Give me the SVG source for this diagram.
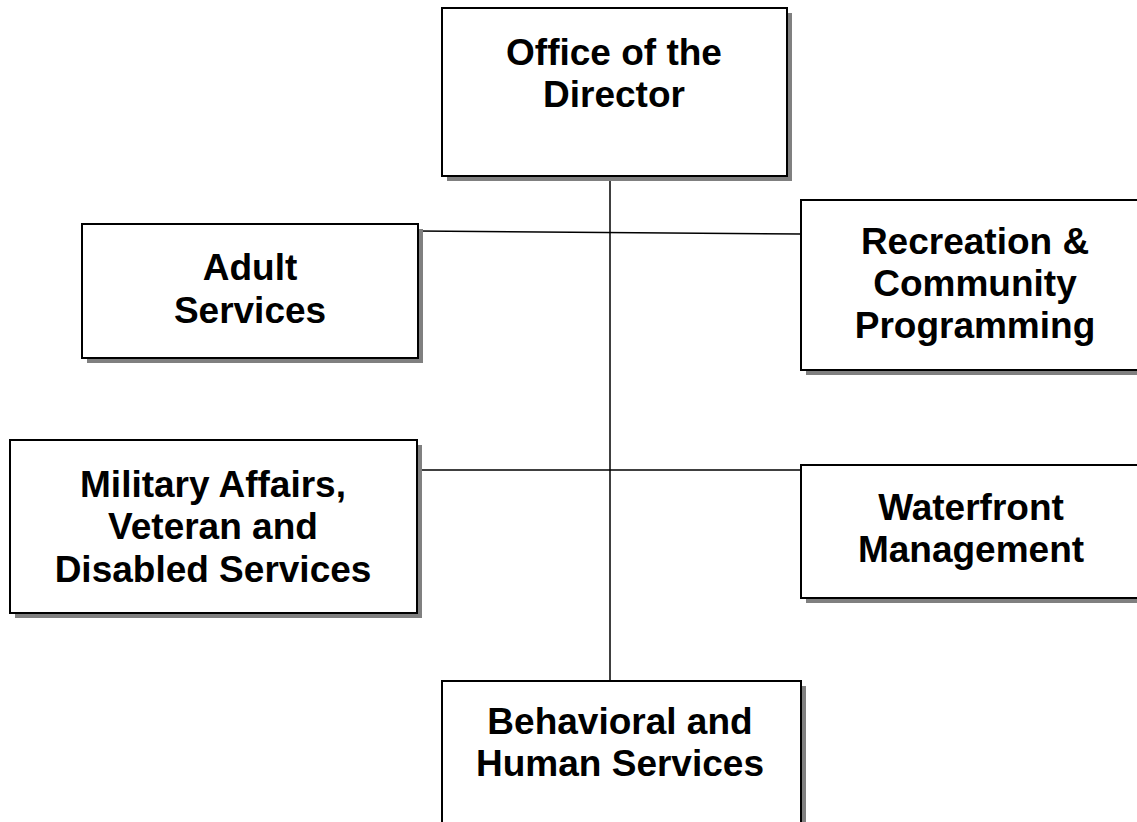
<svg xmlns="http://www.w3.org/2000/svg" width="1137" height="822" viewBox="0 0 1137 822">
<style>
.sh{fill:#808080;stroke:none}
.bx{fill:#fff;stroke:#000;stroke-width:2}
.t{font-family:"Liberation Sans",Arial,sans-serif;font-weight:bold;font-size:37px;fill:#000;text-anchor:middle}
.c{stroke:#000;stroke-width:1.5;fill:none}
</style>
<rect width="1137" height="822" fill="#fff"/>
<g id="connectors">
<line class="c" x1="610" y1="176" x2="610" y2="681"/>
<line class="c" x1="418" y1="231" x2="801" y2="234"/>
<line class="c" x1="417" y1="470" x2="801" y2="470"/>
</g>
<g id="office">
<rect class="sh" x="447" y="13" width="345" height="168"/>
<rect class="bx" x="442" y="8" width="345" height="168"/>
<text class="t" x="614" y="65">Office of the</text>
<text class="t" x="614" y="107">Director</text>
</g>
<g id="adult">
<rect class="sh" x="87" y="229" width="336" height="134"/>
<rect class="bx" x="82" y="224" width="336" height="134"/>
<text class="t" x="250" y="280">Adult</text>
<text class="t" x="250" y="323">Services</text>
</g>
<g id="recreation">
<rect class="sh" x="806" y="205" width="360" height="170"/>
<rect class="bx" x="801" y="200" width="360" height="170"/>
<text class="t" x="975" y="254">Recreation &amp;</text>
<text class="t" x="975" y="296">Community</text>
<text class="t" x="975" y="338">Programming</text>
</g>
<g id="military">
<rect class="sh" x="15" y="445" width="407" height="173"/>
<rect class="bx" x="10" y="440" width="407" height="173"/>
<text class="t" x="213" y="497">Military Affairs,</text>
<text class="t" x="213" y="539">Veteran and</text>
<text class="t" x="213" y="582">Disabled Services</text>
</g>
<g id="waterfront">
<rect class="sh" x="806" y="470" width="350" height="133"/>
<rect class="bx" x="801" y="465" width="350" height="133"/>
<text class="t" x="971" y="520">Waterfront</text>
<text class="t" x="971" y="562">Management</text>
</g>
<g id="behavioral">
<rect class="sh" x="447" y="686" width="359" height="160"/>
<rect class="bx" x="442" y="681" width="359" height="160"/>
<text class="t" x="620" y="734">Behavioral and</text>
<text class="t" x="620" y="776">Human Services</text>
</g>
</svg>
